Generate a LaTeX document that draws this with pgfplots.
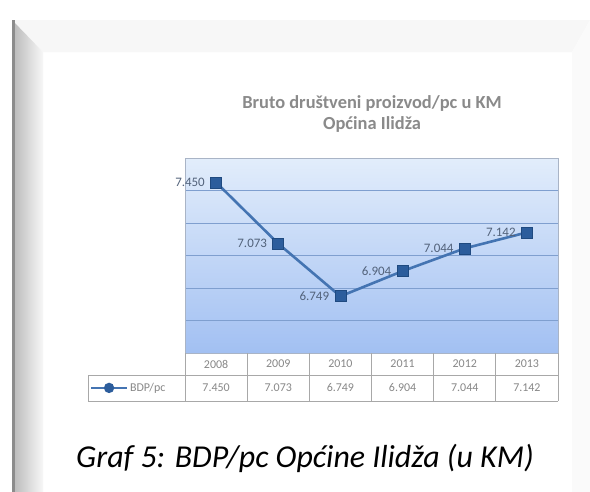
\documentclass[border=0pt]{standalone}
\usepackage{pgfplots}
\pgfplotsset{compat=1.18}
\usepackage{fontspec}
\setmainfont{Carlito}
\definecolor{bgtop}{HTML}{E2EDFB}
\definecolor{bgbot}{HTML}{A2C0F2}
\definecolor{gridblue}{HTML}{7F9FCF}
\definecolor{borderc}{HTML}{A9B4C6}
\definecolor{linec}{HTML}{4474B2}
\definecolor{markc}{HTML}{2C5D9C}
\definecolor{markdark}{HTML}{1F4A80}
\definecolor{labc}{HTML}{52627A}
\definecolor{tabgray}{HTML}{888888}
\definecolor{tabline}{HTML}{A8A8A8}
\definecolor{titlegray}{HTML}{8A8A8A}
\begin{document}
\begin{tikzpicture}
\fill[white] (0,0) rectangle (590bp,-492bp);
% frame decoration
\fill[black!3] (12bp,-20bp) -- (590bp,-20bp) -- (572bp,-52bp) -- (43bp,-52bp) -- cycle;
\shade[left color=black!28, right color=black!3] (12bp,-20bp) -- (43bp,-52bp) -- (43bp,-492bp) -- (12bp,-492bp) -- cycle;
\fill[black!45] (12bp,-20bp) rectangle (15bp,-492bp);
\fill[black!2] (572bp,-52bp) -- (590bp,-20bp) -- (590bp,-492bp) -- (572bp,-492bp) -- cycle;
% title
\node[font=\bfseries\fontsize{18.5}{22}\selectfont, text=titlegray, align=center] at (372bp,-114bp) {Bruto društveni proizvod/pc u KM\\Općina Ilidža};
\begin{axis}[
  at={(185bp,-353bp)}, anchor=south west,
  scale only axis, width=373bp, height=195bp,
  xmin=-0.5, xmax=5.5, ymin=6400, ymax=7600,
  xtick={0,...,5}, xticklabels={2008,2009,2010,2011,2012,2013},
  ytick={6600,6800,...,7400}, yticklabels={},
  major tick length=0,
  ymajorgrids, grid style={gridblue, line width=0.9bp},
  axis line style={draw=borderc, line width=0.8bp},
  axis background/.style={top color=bgtop, bottom color=bgbot},
  xticklabel style={font=\fontsize{12}{14}\selectfont, text=tabgray, anchor=center, yshift=-11bp},
  clip=false,
  legend style={draw=none, fill=none, at={(-0.255,-0.179)}, anchor=west, font=\fontsize{12}{14}\selectfont, text=tabgray, inner sep=0pt},
  legend image code/.code={\draw[linec, line width=2bp] (0bp,0bp) -- (36bp,0bp); \fill[markc] (18bp,0bp) circle (3.8bp);},
]
\addplot[line width=2.6bp, color=linec, mark=square*, mark size=5.5bp,
  mark options={fill=markc, draw=markdark, line width=0.6bp},
  nodes near coords, point meta=explicit symbolic,
  nodes near coords align={left},
  every node near coord/.append style={font=\fontsize{13}{15}\selectfont, text=labc, inner sep=1bp, xshift=-10bp}]
  coordinates {(0,7450)[7.450] (1,7073)[7.073] (2,6749)[6.749] (3,6904)[6.904] (4,7044)[7.044] (5,7142)[7.142]};
\addlegendentry{BDP/pc}
\addplot[forget plot, draw=none, mark=none,
  nodes near coords, point meta=explicit symbolic,
  nodes near coords align={center},
  every node near coord/.append style={font=\fontsize{12}{14}\selectfont, text=tabgray, anchor=center, yshift=-35bp}]
  coordinates {(0,6400)[7.450] (1,6400)[7.073] (2,6400)[6.749] (3,6400)[6.904] (4,6400)[7.044] (5,6400)[7.142]};
\end{axis}
% data table grid
\draw[tabline, line width=0.7bp] (88bp,-375bp) -- (558bp,-375bp);
\draw[tabline, line width=0.7bp] (88bp,-401bp) -- (558bp,-401bp);
\draw[tabline, line width=0.7bp] (88bp,-375bp) -- (88bp,-401bp);
\foreach \x in {185,247.17,309.33,371.5,433.67,495.83,558} {
  \draw[tabline, line width=0.7bp] (\x bp,-353bp) -- (\x bp,-401bp);
}
% caption
\node[font=\itshape\fontsize{32}{36}\selectfont, anchor=base] at (305bp,-467bp) {Graf 5: BDP/pc Općine Ilidža (u KM)};
\pgfresetboundingbox
\useasboundingbox (0,0) rectangle (590bp,-492bp);
\end{tikzpicture}
\end{document}
